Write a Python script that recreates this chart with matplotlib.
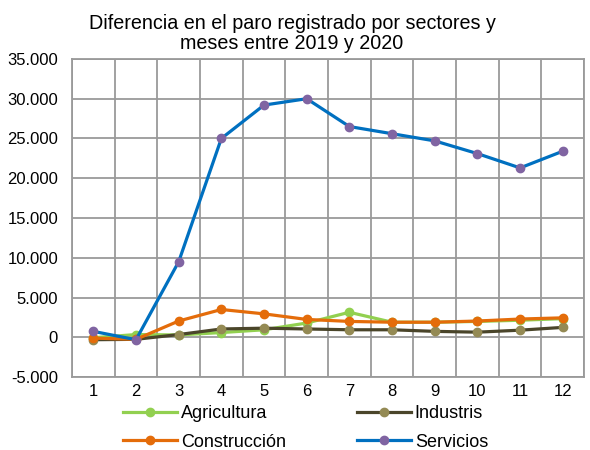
import matplotlib.pyplot as plt
import numpy as np

plt.rcParams['font.family'] = ['Liberation Sans', 'DejaVu Sans']

meses = np.arange(1, 13)

agricultura = [-50, 350, 300, 600, 950, 1800, 3150, 1900, 1900, 2000, 2150, 2350]
industris = [-300, -250, 350, 1050, 1150, 1050, 950, 950, 750, 650, 900, 1250]
construccion = [-100, -250, 2050, 3500, 2950, 2250, 2000, 1900, 1900, 2050, 2300, 2450]
servicios = [750, -300, 9500, 25000, 29200, 30000, 26500, 25600, 24700, 23100, 21300, 23400]

yticks = np.arange(-5000, 35001, 5000)
ytick_labels = ['{:,}'.format(v).replace(',', '.') for v in yticks]

fig = plt.figure(figsize=(5.9, 4.5), dpi=100)
ax = fig.add_axes([0.122, 0.162, 0.868, 0.707])

la, = ax.plot(meses, agricultura, color='#92D050', lw=2.3, marker='o', ms=6,
              mfc='#92D050', mec='#92D050', label='Agricultura')
li, = ax.plot(meses, industris, color='#4A452A', lw=2.3, marker='o', ms=6,
              mfc='#948A54', mec='#948A54', label='Industris')
lc, = ax.plot(meses, construccion, color='#E46C0A', lw=2.3, marker='o', ms=6,
              mfc='#E46C0A', mec='#E46C0A', label='Construcción')
ls, = ax.plot(meses, servicios, color='#0070C0', lw=2.3, marker='o', ms=6,
              mfc='#8064A2', mec='#8064A2', label='Servicios')

ax.set_xlim(0.5, 12.5)
ax.set_ylim(-5000, 35000)
ax.set_xticks(meses)
ax.set_xticks(np.arange(0.5, 13, 1), minor=True)
ax.set_yticks(yticks)
ax.set_yticklabels(ytick_labels)
ax.tick_params(which='both', length=0, labelsize=12)
ax.tick_params(axis='y', pad=10)
ax.tick_params(axis='x', pad=5)
ax.grid(axis='y', which='major', color='#9A9A9A', lw=1.3)
ax.grid(axis='x', which='minor', color='#9A9A9A', lw=1.3)
ax.set_axisbelow(True)
for s in ax.spines.values():
    s.set_color('#9A9A9A')
    s.set_linewidth(1.3)

fig.text(0.495, 0.926, 'Diferencia en el paro registrado por sectores y\nmeses entre 2019 y 2020',
         ha='center', va='center', fontsize=14.2, linespacing=1.1)

fig.legend([la, lc, li, ls], ['Agricultura', 'Construcción', 'Industris', 'Servicios'],
           ncol=2, loc='upper left', bbox_to_anchor=(0.181, 0.136), frameon=False,
           fontsize=13, handlelength=3.0, handletextpad=0.22, columnspacing=3.9,
           labelspacing=0.65, borderpad=0.4)

plt.savefig('out.png')
